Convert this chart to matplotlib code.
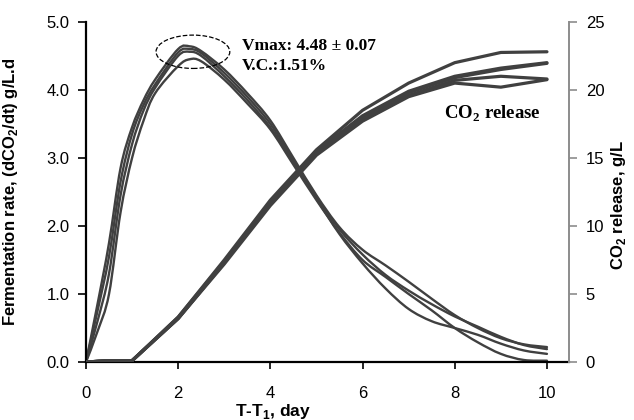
import matplotlib
matplotlib.use("Agg")
import matplotlib.pyplot as plt
from matplotlib.path import Path
from matplotlib.patches import PathPatch, Ellipse
import numpy as np

# fermentation rate replicates, g/L.d
rate_days = [0, 0.25, 0.5, 0.75, 1.0, 1.25, 1.5, 2.0, 2.25, 2.5, 3.0, 3.5, 4.0, 4.5,
             5.0, 5.5, 6.0, 6.5, 7.0, 7.5, 8.0, 8.5, 9.0, 9.5, 10.0]
rate_1 = [0, 0.85, 1.75, 2.85, 3.45, 3.85, 4.15, 4.60, 4.64, 4.57, 4.30, 3.95, 3.55, 3.00,
          2.45, 1.98, 1.65, 1.42, 1.18, 0.93, 0.69, 0.50, 0.35, 0.26, 0.22]
rate_2 = [0, 0.75, 1.55, 2.65, 3.35, 3.78, 4.08, 4.55, 4.60, 4.54, 4.25, 3.90, 3.50, 2.97,
          2.43, 1.95, 1.58, 1.28, 1.05, 0.85, 0.67, 0.52, 0.37, 0.25, 0.19]
rate_3 = [0, 0.60, 1.30, 2.45, 3.20, 3.70, 4.03, 4.50, 4.56, 4.50, 4.20, 3.85, 3.45, 2.93,
          2.40, 1.88, 1.45, 1.08, 0.78, 0.60, 0.50, 0.40, 0.27, 0.17, 0.12]
rate_4 = [0, 0.45, 1.00, 2.20, 3.00, 3.55, 3.95, 4.35, 4.45, 4.42, 4.15, 3.80, 3.42, 2.90,
          2.38, 1.90, 1.50, 1.25, 1.00, 0.76, 0.50, 0.29, 0.12, 0.03, 0.02]

# cumulative CO2 release replicates, g/L
co2_days = [0, 0.5, 1, 2, 3, 4, 5, 6, 7, 8, 9, 10]
co2_1 = [0, 0.1, 0.1, 3.3, 7.5, 11.9, 15.6, 18.5, 20.5, 22.0, 22.75, 22.8]
co2_2 = [0, 0.1, 0.1, 3.3, 7.4, 11.8, 15.5, 18.1, 19.9, 21.0, 21.6, 22.0]
co2_3 = [0, 0.1, 0.1, 3.2, 7.3, 11.7, 15.4, 18.0, 19.8, 20.9, 21.5, 21.95]
co2_4 = [0, 0.1, 0.1, 3.2, 7.3, 11.6, 15.3, 17.8, 19.6, 20.7, 21.0, 20.8]
co2_5 = [0, 0.1, 0.1, 3.2, 7.2, 11.5, 15.2, 17.7, 19.5, 20.5, 20.2, 20.75]

LINE = '#404040'
SANS = 'Liberation Sans'
SERIF = 'Liberation Serif'


def smooth_path(x, y):
    # catmull-rom through the points, drawn as cubic bezier (like a smoothed excel line)
    p = np.column_stack([x, y]).astype(float)
    verts = [p[0]]
    codes = [Path.MOVETO]
    n = len(p)
    for i in range(n - 1):
        p0 = p[i - 1] if i > 0 else p[i]
        p3 = p[i + 2] if i + 2 < n else p[i + 1]
        c1 = p[i] + (p[i + 1] - p0) / 6.0
        c2 = p[i + 1] - (p3 - p[i]) / 6.0
        verts += [c1, c2, p[i + 1]]
        codes += [Path.CURVE4] * 3
    return Path(verts, codes)


fig = plt.figure(figsize=(6.34, 4.2), dpi=100)
ax = fig.add_axes([0.1356, 0.138, 0.762, 0.81])
ax2 = ax.twinx()

for r in [rate_1, rate_2, rate_3, rate_4]:
    ax.add_patch(PathPatch(smooth_path(rate_days, r), fill=False,
                           edgecolor=LINE, lw=1.7, capstyle='round'))

for c in [co2_1, co2_2, co2_3, co2_4, co2_5]:
    ax2.plot(co2_days, c, color=LINE, lw=2.3, solid_capstyle='round')

ax.add_patch(Ellipse((2.32, 4.56), 1.6, 0.49, fill=False, ls='--',
                     edgecolor='black', lw=0.9))

ax.text(3.38, 4.65, 'Vmax: 4.48 \u00b1 0.07', family=SERIF, weight='bold',
        fontsize=12.5, va='center')
ax.text(3.38, 4.35, 'V.C.:1.51%', family=SERIF, weight='bold',
        fontsize=12.5, va='center')
ax2.text(7.77, 18.25, 'CO$_\\mathregular{2}$ release', family=SERIF, weight='bold',
         fontsize=13.5, va='center')

ax.set_xlim(0, 10.48)
ax.set_ylim(0, 5)
ax2.set_ylim(0, 25)
ax.set_xticks([0, 2, 4, 6, 8, 10])
ax.set_yticks(np.arange(0, 5.01, 1.0))
ax.set_yticklabels(['%.1f' % v for v in np.arange(0, 5.01, 1.0)])
ax2.set_yticks([0, 5, 10, 15, 20, 25])

for a in (ax, ax2):
    a.spines['top'].set_visible(False)
ax.spines['right'].set_visible(False)
ax2.spines['left'].set_visible(False)
ax2.spines['bottom'].set_visible(False)
ax.spines['left'].set_linewidth(1.6)
ax.spines['bottom'].set_linewidth(1.6)
ax2.spines['right'].set_color('#8c8c8c')
ax2.spines['right'].set_linewidth(1.4)

ax.tick_params(axis='x', direction='out', length=5, width=1.2, pad=12,
               labelsize=12)
ax.tick_params(axis='y', direction='out', length=6, width=1.2, pad=6,
               labelsize=12)
ax2.tick_params(axis='y', direction='out', length=6, width=1.2, pad=6,
                labelsize=12, color='#8c8c8c')
for lab in ax.get_xticklabels() + ax.get_yticklabels() + ax2.get_yticklabels():
    lab.set_family(SANS)

ax.set_xlabel('T-T$_\\mathregular{1}$, day', family=SANS, weight='bold', fontsize=12.5)
ax.xaxis.set_label_coords(0.387, -0.116)
ax.set_ylabel('Fermentation rate, (dCO$_\\mathregular{2}$/dt) g/L.d', family=SANS,
              weight='bold', fontsize=12)
ax.yaxis.set_label_coords(-0.137, 0.5)
ax2.set_ylabel('CO$_\\mathregular{2}$ release, g/L', family=SANS, weight='bold',
               fontsize=12)
ax2.yaxis.set_label_coords(1.083, 0.46)

fig.savefig('out.png', dpi=100)
